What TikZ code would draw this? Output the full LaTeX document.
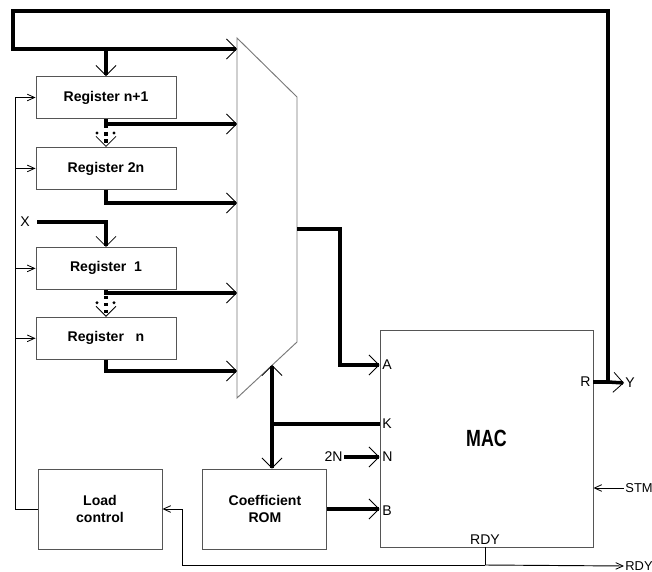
\documentclass[tikz,border=0pt]{standalone}
\usepackage{fontspec}
\setmainfont{Liberation Sans}
\newfontfamily\macfont[FakeStretch=0.76]{Liberation Sans}
\usepackage{tikz}
\usetikzlibrary{arrows.meta, positioning, calc}
\definecolor{frameGray}{RGB}{85, 85, 85}
\definecolor{muxGray}{RGB}{120, 120, 120}

\begin{document}
\begin{tikzpicture}[
    x=0.03cm, y=-0.03cm,
    bigbarb/.tip={Straight Barb[length=0.3cm, width=0.6cm, line width=0.7pt]},
    smallbarb/.tip={Straight Barb[length=0.22cm, width=0.2cm, line width=0.7pt]},
    regbox/.style={
        rectangle,
        draw=frameGray,
        line width=0.8pt,
        minimum width=4.2cm,
        minimum height=1.26cm,
        font=\fontsize{12}{14}\selectfont\bfseries
    },
    ctlbox/.style={
        rectangle,
        draw=frameGray,
        line width=0.8pt,
        minimum width=3.72cm,
        minimum height=2.4cm,
        align=center,
        font=\fontsize{12}{14.5}\selectfont\bfseries
    },
    macbox/.style={
        rectangle,
        draw=frameGray,
        line width=0.8pt,
        minimum width=6.39cm,
        minimum height=6.51cm,
        font=\macfont\fontsize{20}{20}\selectfont\bfseries
    },
    pinlabel/.style={
        inner sep=1pt,
        font=\fontsize{12}{12}\selectfont
    },
    bus/.style={line width=3pt},
    dotbus/.style={line width=3pt, dash pattern=on 3pt off 3pt},
    sig/.style={line width=0.8pt},
    muxline/.style={draw=muxGray, line width=0.8pt}
]
\useasboundingbox (0,0) rectangle (652,572);

% Register file
\node[regbox] (rnp1) at (106,97.5) {Register n+1};
\node[regbox, below=0.84cm of rnp1] (r2n) {Register 2n};
\node[regbox, below=1.71cm of r2n] (r1) {Register\ \ 1};
\node[regbox, below=0.81cm of r1] (rn) {Register\ \ \ n};

% Control and coefficients
\node[ctlbox] (load) at (100,509) {Load\\control};
\node[ctlbox, right=1.2cm of load] (rom) {Coefficient\\ROM};

% MAC unit and its pins
\node[macbox] (mac) at (486.5,438.5) {MAC};
\node[pinlabel, anchor=west] (pA) at (381,365) {A};
\node[pinlabel, anchor=west] (pK) at (381,424) {K};
\node[pinlabel, anchor=west] (pN) at (381,457) {N};
\node[pinlabel, anchor=west] (pB) at (381,511) {B};
\node[pinlabel, anchor=east] (pR) at (592,382) {R};
\node[pinlabel, anchor=south] (pRDY) at (485,546) {RDY};

% Outside signals
\node[pinlabel] (xin) at (25,222) {X};
\node[pinlabel, anchor=east] (twoN) at (344,457) {2N};
\node[pinlabel, anchor=west] (yout) at (624,383) {Y};
\node[pinlabel, anchor=west, font=\fontsize{11}{11}\selectfont] (stm) at (624,488) {STM};
\node[pinlabel, anchor=west, font=\fontsize{11}{11}\selectfont] (rdyout) at (624,566) {RDY};

% Multiplexer
\draw[muxline] (237,38) -- (297,97) -- (297,342) -- (237,398) -- cycle;
\coordinate (m0) at (237,49);
\coordinate (m1) at (237,124);
\coordinate (m2) at (237,203);
\coordinate (m3) at (237,293);
\coordinate (m4) at (237,371);
\coordinate (mout) at (297,229);
\coordinate (jog) at (340,229);
\coordinate (msel) at (272,365);

\coordinate (tap) at (608,382);
\coordinate (busTop) at (13,11);
\coordinate (ctlbus) at (15,97);
\coordinate (rdyJ) at (485,565);

% Feedback bus
\draw[bus, -bigbarb] (mac.east |- pR) -- (tap) |- (busTop) |- (m0);
\draw[bus, -bigbarb] (tap) -- (yout.west);
\draw[bus, -bigbarb] (rnp1.north |- m0) -- (rnp1.north);

% Register outputs
\draw[bus, -bigbarb] (rnp1.south) |- (m1);
\draw[bus, -bigbarb] (r2n.south) |- (m2);
\draw[bus, -bigbarb] (r1.south) |- (m3);
\draw[bus, -bigbarb] (rn.south) |- (m4);
\draw[bus, -bigbarb] ([xshift=0.18cm]xin.east) -| (r1.north);
\foreach \a/\b in {rnp1/r2n, r1/rn} {
    \draw[dotbus, -bigbarb] ($(\a.south)+(0,6)$) -- (\b.north);
    \fill ($(\b.north)+(-9,-14)$) circle (1.4pt) ($(\b.north)+(8,-14)$) circle (1.4pt);
}

% Into the MAC
\draw[bus, -bigbarb] (mout) -- (jog) |- (mac.west |- pA);
\draw[bus, bigbarb-bigbarb] (msel) -- (rom.north -| msel);
\draw[bus] (msel |- pK) -- (mac.west |- pK);
\draw[bus, -bigbarb] (twoN.east) -- (mac.west |- pN);
\draw[bus, -bigbarb] (rom.east) -- (rom.east -| mac.west);
\draw[sig, -smallbarb] (stm.west) -- (stm.west -| mac.east);

% Ready and load control
\draw[sig] (mac.south -| pRDY) -- (rdyJ);
\draw[sig, -smallbarb] (rdyJ) -- (rdyout.west);
\draw[sig, -smallbarb] (rdyJ) -| ($(load.east)+(20,0)$) -- (load.east);
\draw[sig] (load.west) -| (ctlbus);
\foreach \r in {rnp1, r2n, r1, rn}
    \draw[sig, -smallbarb] (ctlbus |- \r.west) -- (\r.west);

\end{tikzpicture}
\end{document}
